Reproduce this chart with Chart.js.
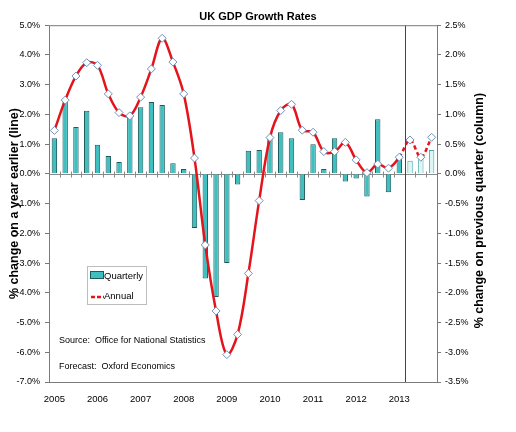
<!DOCTYPE html>
<html>
<head>
<meta charset="utf-8">
<script src="https://cdn.jsdelivr.net/npm/chart.js@4.4.1/dist/chart.umd.min.js"></script>
<style>
html,body{margin:0;padding:0;background:#fff;}
#wrap{width:516px;height:432px;position:relative;}
</style>
</head>
<body>
<div id="wrap"><canvas id="c" width="516" height="432"></canvas></div>
<script>
// ---- data ----
const quarters = [
 '2005 Q1','2005 Q2','2005 Q3','2005 Q4',
 '2006 Q1','2006 Q2','2006 Q3','2006 Q4',
 '2007 Q1','2007 Q2','2007 Q3','2007 Q4',
 '2008 Q1','2008 Q2','2008 Q3','2008 Q4',
 '2009 Q1','2009 Q2','2009 Q3','2009 Q4',
 '2010 Q1','2010 Q2','2010 Q3','2010 Q4',
 '2011 Q1','2011 Q2','2011 Q3','2011 Q4',
 '2012 Q1','2012 Q2','2012 Q3','2012 Q4',
 '2013 Q1','2013 Q2','2013 Q3','2013 Q4'
];
const yearLabels = ['2005','2006','2007','2008','2009','2010','2011','2012','2013'];
// % change on previous quarter (columns, right axis)
const quarterly = [
 0.60, 1.21, 0.79, 1.06,
 0.49, 0.30, 0.20, 0.96,
 1.12, 1.21, 1.16, 0.18,
 0.08,-0.91,-1.76,-2.07,
-1.50,-0.18, 0.39, 0.40,
 0.60, 0.70, 0.60,-0.44,
 0.50, 0.08, 0.60,-0.13,
-0.08,-0.38, 0.92,-0.31,
 0.25, 0.22, 0.25, 0.40
];
// % change on a year earlier (line, left axis)
const annual = [
 1.46, 2.48, 3.29, 3.74,
 3.65, 2.69, 2.06, 1.95,
 2.58, 3.53, 4.56, 3.76,
 2.69, 0.53,-2.39,-4.61,
-6.08,-5.40,-3.35,-0.90,
 1.22, 2.13, 2.34, 1.47,
 1.40, 0.75, 0.75, 1.06,
 0.47, 0.04, 0.33, 0.19,
 0.56, 1.14, 0.56, 1.23
];
const firstForecast = 33; // 2013 Q2 onward is forecast
const leftTicks = {min:-7, max:5, step:1};
const rightTicks = {min:-3.5, max:2.5, step:0.5};

const SANS = "'Liberation Sans',Arial,sans-serif";
const TEAL = '#3fbfbf', TEAL_EDGE = '#1d5a5a', LIGHT = '#dcf6f6', LIGHT_EDGE = '#4aa8a8';
const RED = '#e3141b';

const extras = {
  id:'extras',
  beforeDatasetsDraw(chart){
    const {ctx, chartArea:a, scales:{x, yL}} = chart;
    ctx.save();
    const y0 = Math.round(yL.getPixelForValue(0)) + 0.5;
    ctx.strokeStyle = '#8a8a8a'; ctx.lineWidth = 1;
    ctx.beginPath(); ctx.moveTo(a.left, y0); ctx.lineTo(a.right, y0); ctx.stroke();
    ctx.beginPath();
    for (let i = 0; i <= quarters.length; i++) {
      const px = Math.round(x.getPixelForValue(i - 0.5)) + 0.5;
      ctx.moveTo(px, y0 - 3); ctx.lineTo(px, y0 + 3);
    }
    ctx.stroke();
    const fx = Math.round(x.getPixelForValue(firstForecast - 0.5)) + 0.5;
    ctx.strokeStyle = '#444'; ctx.beginPath(); ctx.moveTo(fx, a.top); ctx.lineTo(fx, a.bottom); ctx.stroke();
    ctx.restore();
  },
  afterDraw(chart){
    const {ctx, chartArea:a} = chart;
    ctx.save();
    ctx.strokeStyle = '#7a7a7a'; ctx.lineWidth = 1;
    ctx.strokeRect(a.left + 0.5, a.top + 0.5, a.right - a.left, a.bottom - a.top);
    ctx.fillStyle = '#000';
    ctx.font = 'bold 12.5px ' + SANS;
    ctx.textAlign = 'center'; ctx.textBaseline = 'middle';
    ctx.translate(480, (a.top + a.bottom) / 2 + 7);
    ctx.rotate(-Math.PI / 2);
    ctx.fillText('% change on previous quarter (column)', 0, 0);
    ctx.restore();

    ctx.save();
    ctx.strokeStyle = '#bdbdbd'; ctx.lineWidth = 1;
    ctx.strokeRect(87.5, 266.5, 59, 38);
    ctx.fillStyle = TEAL; ctx.fillRect(91, 272, 13, 7);
    ctx.strokeStyle = TEAL_EDGE; ctx.strokeRect(90.5, 271.5, 13, 7);
    ctx.strokeStyle = RED; ctx.lineWidth = 2.5; ctx.setLineDash([4, 2]);
    ctx.beginPath(); ctx.moveTo(91, 297); ctx.lineTo(104, 297); ctx.stroke();
    ctx.setLineDash([]);
    ctx.fillStyle = '#000'; ctx.font = '9.5px ' + SANS;
    ctx.textAlign = 'left'; ctx.textBaseline = 'middle';
    ctx.fillText('Quarterly', 104, 276);
    ctx.fillText('Annual', 104, 296);
    ctx.font = '9px ' + SANS;
    ctx.fillText('Source:  Office for National Statistics', 59, 341);
    ctx.fillText('Forecast:  Oxford Economics', 59, 367);
    ctx.restore();
  }
};

new Chart(document.getElementById('c'), {
  data: {
    labels: quarters,
    datasets: [
      {
        type: 'line', label: 'Annual', data: annual, yAxisID: 'yL', order: 0,
        borderColor: RED, borderWidth: 2.5, tension: 0.35,
        segment: { borderDash: c => c.p0DataIndex >= firstForecast - 1 ? [4, 3] : undefined },
        pointStyle: 'rectRot', pointRadius: 4, pointBackgroundColor: '#fff',
        pointBorderColor: '#6f8fb8', pointBorderWidth: 1
      },
      {
        type: 'bar', label: 'Quarterly', data: quarterly, yAxisID: 'yR', order: 1,
        backgroundColor: quarterly.map((v, i) => i >= firstForecast ? LIGHT : TEAL),
        borderColor: quarterly.map((v, i) => i >= firstForecast ? LIGHT_EDGE : TEAL_EDGE),
        borderWidth: 1, barPercentage: 0.5, categoryPercentage: 1
      }
    ]
  },
  options: {
    responsive: false, animation: false, devicePixelRatio: 1,
    layout: { padding: 0 },
    plugins: {
      legend: { display: false },
      tooltip: { enabled: false },
      title: { display: true, text: 'UK GDP Growth Rates', color: '#000',
        font: { family: SANS, size: 11, weight: 'bold' }, padding: { top: 10, bottom: 2 } }
    },
    scales: {
      x: {
        type: 'category', offset: true,
        grid: { display: false, drawTicks: false }, border: { display: false },
        ticks: { autoSkip: false, maxRotation: 0, padding: 12, color: '#000',
          font: { family: SANS, size: 9.5 },
          callback: function(v, i) { return i % 4 === 0 ? yearLabels[i / 4] : ''; } },
        afterFit: s => { s.height = 50; }
      },
      yL: {
        position: 'left', min: leftTicks.min, max: leftTicks.max,
        grid: { drawOnChartArea: false, drawTicks: true, tickLength: 4, color: '#7a7a7a' },
        border: { display: false },
        ticks: { stepSize: leftTicks.step, padding: 5, color: '#000',
          font: { family: SANS, size: 9 }, callback: v => v.toFixed(1) + '%' },
        title: { display: true, text: '% change on a year earlier (line)', color: '#000',
          font: { family: SANS, size: 12.5, weight: 'bold' }, padding: { top: 7, bottom: 0 } },
        afterFit: s => { s.width = 49; }
      },
      yR: {
        position: 'right', min: rightTicks.min, max: rightTicks.max,
        grid: { drawOnChartArea: false, drawTicks: true, tickLength: 4, color: '#7a7a7a' },
        border: { display: false },
        ticks: { stepSize: rightTicks.step, padding: 4, color: '#000',
          font: { family: SANS, size: 9 }, callback: v => v.toFixed(1) + '%' },
        afterFit: s => { s.width = 79; }
      }
    }
  },
  plugins: [extras]
});
</script>
</body>
</html>
